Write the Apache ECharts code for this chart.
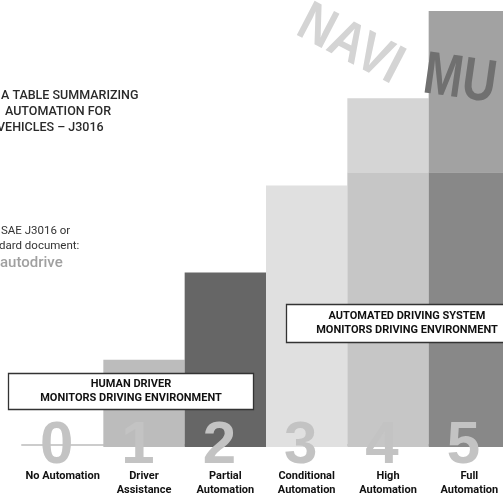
<!DOCTYPE html>
<html><head><meta charset="utf-8">
<script src="https://cdn.jsdelivr.net/npm/echarts@6/dist/echarts.min.js"></script>
<style>html,body{margin:0;padding:0;background:#fff}#c{width:503px;height:493px}</style>
</head><body><div id="c"></div>
<script>
// ---- data ----
const levels = ['0', '1', '2', '3', '4', '5'];
const levelNames = ['No Automation', 'Driver\nAssistance', 'Partial\nAutomation', 'Conditional\nAutomation', 'High\nAutomation', 'Full\nAutomation'];
const lowerSegment = [0, 1, 2, 3, 3.15, 3.15];
const upperSegment = [0, 0, 0, 0, 0.85, 1.85];
const lowerColors = ['#cccccc', '#bcbcbc', '#666666', '#e0e0e0', '#c6c6c6', '#888888'];
const upperColors = ['#cccccc', '#bcbcbc', '#666666', '#e0e0e0', '#d5d5d5', '#a2a2a2'];
const yMax = 5;

const chart = echarts.init(document.getElementById('c'), null, {renderer: 'canvas'});
const bold = 'Roboto';
const option = {
  animation: false,
  backgroundColor: '#ffffff',
  grid: {left: 22, top: 11, width: 488, height: 436, containLabel: false, outerBoundsMode: 'none'},
  xAxis: [
    {
      type: 'category', data: levels, position: 'bottom', offset: -2,
      axisLine: {show: true, lineStyle: {color: '#cccccc', width: 2}},
      axisTick: {show: false}, axisLabel: {show: false}, splitLine: {show: false}
    },
    {
      type: 'category', data: levels, position: 'bottom', z: 10,
      axisLine: {show: false}, axisTick: {show: false}, splitLine: {show: false},
      axisLabel: {
        interval: 0, margin: -24,
        formatter: (v, i) => '{d|' + v + '}\n' + levelNames[i].split('\n').map(s => '{n|' + s + '}').join('\n'),
        rich: {
          d: {fontFamily: "'Liberation Sans', Arial, sans-serif", fontWeight: 'bold', fontSize: 60, lineHeight: 46, color: '#c3c3c3', padding: [0, 12, 0, 0]},
          n: {fontFamily: bold, fontWeight: 'bold', fontSize: 11, lineHeight: 14, color: '#111111'}
        }
      }
    }
  ],
  yAxis: {type: 'value', min: 0, max: yMax, show: false},
  series: [
    {
      type: 'bar', name: 'lower', stack: 'lvl', data: lowerSegment, barCategoryGap: '0%', xAxisIndex: 0,
      itemStyle: {color: p => lowerColors[p.dataIndex]}, silent: true
    },
    {
      type: 'bar', name: 'upper', stack: 'lvl', data: upperSegment, barCategoryGap: '0%', xAxisIndex: 0,
      itemStyle: {color: p => upperColors[p.dataIndex]}, silent: true
    }
  ],
  graphic: [
    {type: 'text', x: 314, y: -5, rotation: -0.48, scaleX: 0.85, z: 5,
      style: {text: 'NAVI', font: 'bold 56px "Liberation Sans", sans-serif', fill: '#d4d4d4'}},
    {type: 'text', x: 428, y: 46, rotation: -0.14, scaleX: 0.78, z: 5,
      style: {text: 'MU', font: 'bold 60px "Liberation Sans", sans-serif', fill: '#707070'}},
    {type: 'text', x: 1, y: 89, style: {text: 'A TABLE SUMMARIZING', font: '500 12.5px Roboto, sans-serif', fill: '#2a2a2a'}},
    {type: 'text', x: 5, y: 105, style: {text: 'AUTOMATION FOR', font: '500 12.5px Roboto, sans-serif', fill: '#2a2a2a'}},
    {type: 'text', x: -3, y: 121, style: {text: 'VEHICLES – J3016', font: '500 12.5px Roboto, sans-serif', fill: '#2a2a2a'}},
    {type: 'text', x: 1, y: 225, style: {text: 'SAE J3016 or', font: '11.5px Roboto, sans-serif', fill: '#333333'}},
    {type: 'text', x: -1, y: 240, style: {text: 'dard document:', font: '11.5px Roboto, sans-serif', fill: '#333333'}},
    {type: 'text', x: 0, y: 256, style: {text: 'autodrive', font: '500 15px Roboto, sans-serif', fill: '#a0a0a0'}},
    {type: 'rect', shape: {x: 8.5, y: 373.5, width: 245, height: 36}, z: 20,
      style: {fill: '#ffffff', stroke: '#333333', lineWidth: 1.3}},
    {type: 'text', x: 131, y: 384, z: 21, style: {text: 'HUMAN DRIVER', font: 'bold 11px Roboto, sans-serif', fill: '#111', align: 'center', verticalAlign: 'middle'}},
    {type: 'text', x: 131, y: 398, z: 21, style: {text: 'MONITORS DRIVING ENVIRONMENT', font: 'bold 11px Roboto, sans-serif', fill: '#111', align: 'center', verticalAlign: 'middle'}},
    {type: 'rect', shape: {x: 286.5, y: 304.5, width: 240, height: 38}, z: 20,
      style: {fill: '#ffffff', stroke: '#333333', lineWidth: 1.3}},
    {type: 'text', x: 407, y: 316, z: 21, style: {text: 'AUTOMATED DRIVING SYSTEM', font: 'bold 11px Roboto, sans-serif', fill: '#111', align: 'center', verticalAlign: 'middle'}},
    {type: 'text', x: 407, y: 330, z: 21, style: {text: 'MONITORS DRIVING ENVIRONMENT', font: 'bold 11px Roboto, sans-serif', fill: '#111', align: 'center', verticalAlign: 'middle'}}
  ]
};
chart.setOption(option);
</script></body></html>
